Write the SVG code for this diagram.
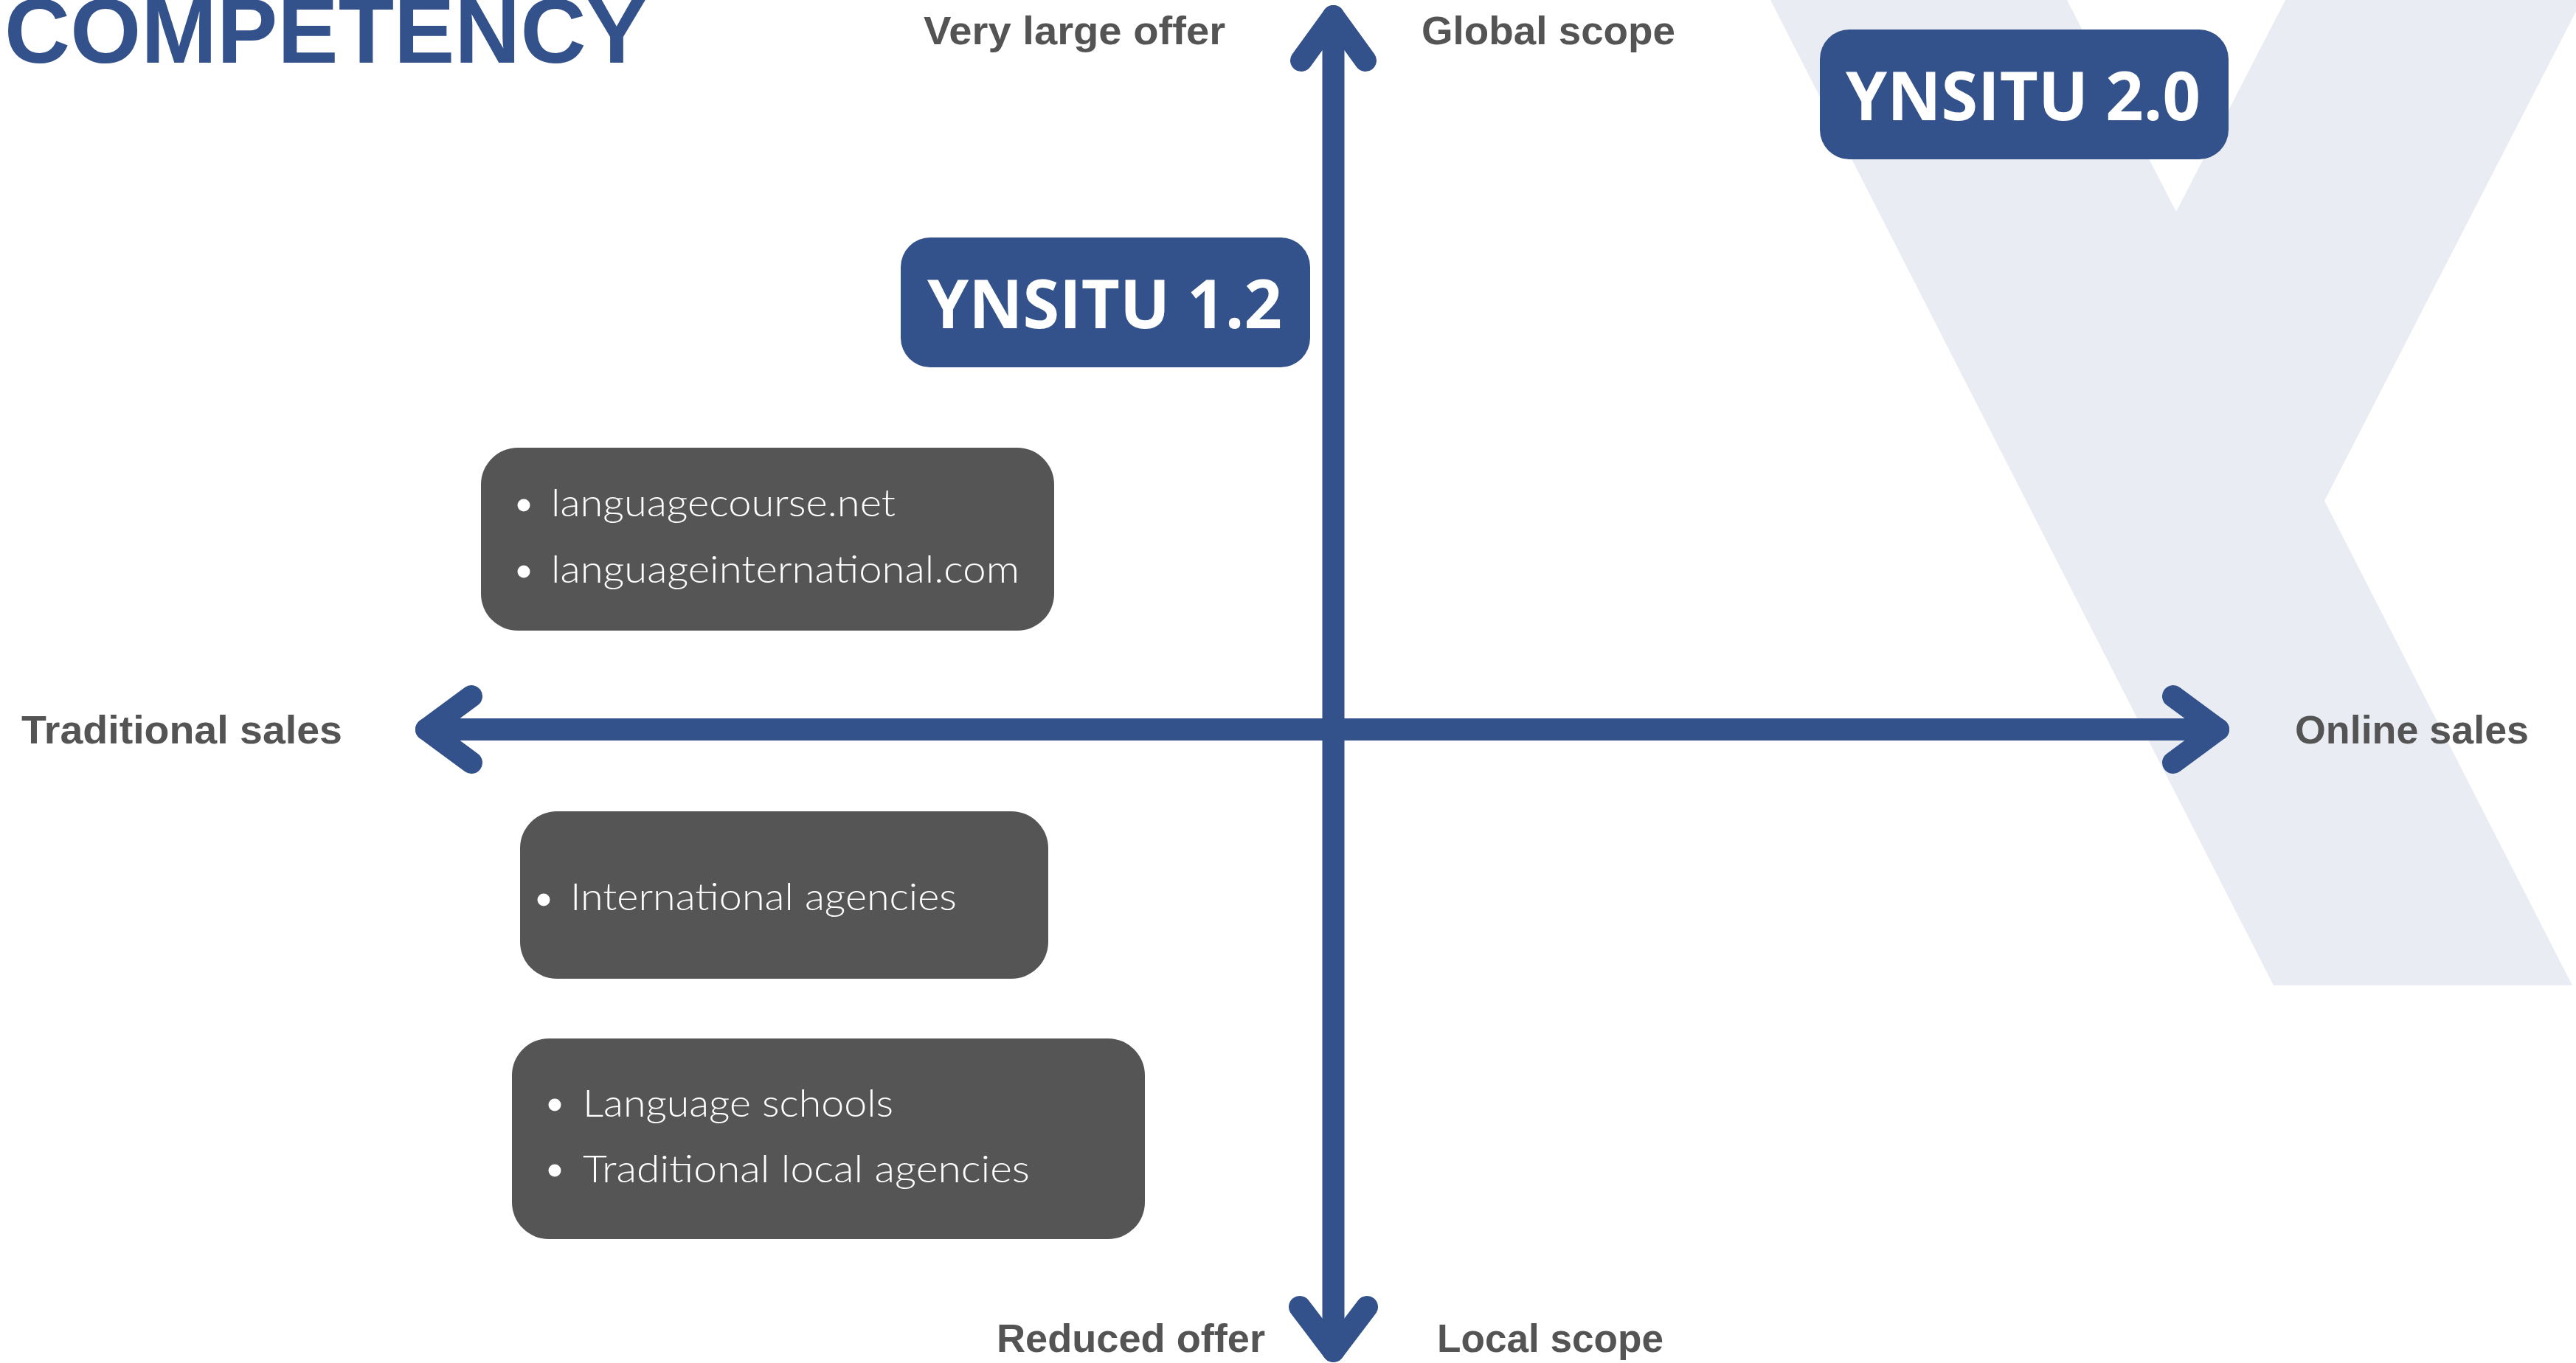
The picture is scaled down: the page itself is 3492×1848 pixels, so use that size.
<svg xmlns="http://www.w3.org/2000/svg" width="3492" height="1848" viewBox="0 0 3492 1848">
  <style>
    .axis { fill: none; stroke: #33518A; stroke-width: 30; stroke-linecap: round; stroke-linejoin: round; }
    .lbl { font-family: "Liberation Sans", Arial, sans-serif; font-weight: bold; font-size: 54px; fill: #545454; }
    .title { font-family: "Liberation Sans", Arial, sans-serif; font-weight: bold; font-size: 125px; fill: #33518A; }
    .ver-box { fill: #33518A; }
    .ver-txt { font-family: "Open Sans", "Liberation Sans", sans-serif; font-weight: bold; font-size: 91px; fill: #FFFFFF; text-anchor: middle; }
    .comp-box { fill: #555555; }
    .comp-txt { font-family: Lato, "Liberation Sans", sans-serif; font-weight: 300; font-size: 51px; fill: #FFFFFF; }
    .dot { fill: #FFFFFF; }
  </style>

  <rect width="3492" height="1848" fill="#FFFFFF"/>

  <!-- watermark letter in the background -->
  <polygon points="2400,0 2802,0 2950,287 3098,0 3500,0 3151,679 3487,1336 3082,1336" fill="#E9ECF2"/>

  <!-- heading -->
  <text class="title" x="6" y="85" textLength="871" lengthAdjust="spacingAndGlyphs">COMPETENCY</text>

  <!-- axes -->
  <g id="connectors">
    <line class="axis" x1="1807.5" y1="22" x2="1807.5" y2="1832"/>
    <polyline class="axis" points="1764,82 1807.5,22 1851,82"/>
    <polyline class="axis" points="1762,1772 1807.5,1832 1853,1772"/>
    <line class="axis" x1="578" y1="989" x2="3007" y2="989"/>
    <polyline class="axis" points="639,944 578,989 639,1034"/>
    <polyline class="axis" points="2946,944 3007,989 2946,1034"/>
  </g>

  <!-- axis end labels -->
  <g id="axis-labels">
    <text class="lbl" x="1252" y="60" textLength="409" lengthAdjust="spacingAndGlyphs">Very large offer</text>
    <text class="lbl" x="1927" y="60" textLength="344" lengthAdjust="spacingAndGlyphs">Global scope</text>
    <text class="lbl" x="1351" y="1833" textLength="364" lengthAdjust="spacingAndGlyphs">Reduced offer</text>
    <text class="lbl" x="1948" y="1833" textLength="307" lengthAdjust="spacingAndGlyphs">Local scope</text>
    <text class="lbl" x="29" y="1008" textLength="435" lengthAdjust="spacingAndGlyphs">Traditional sales</text>
    <text class="lbl" x="3111" y="1008" textLength="317" lengthAdjust="spacingAndGlyphs">Online sales</text>
  </g>

  <g id="ynsitu-2-0">
    <rect class="ver-box" x="2467" y="40" width="554" height="176" rx="40" ry="40"/>
    <text class="ver-txt" x="2742.5" y="163" textLength="481" lengthAdjust="spacingAndGlyphs">YNSITU 2.0</text>
  </g>

  <g id="ynsitu-1-2">
    <rect class="ver-box" x="1221" y="322" width="555" height="176" rx="40" ry="40"/>
    <text class="ver-txt" x="1497.5" y="445" textLength="481" lengthAdjust="spacingAndGlyphs">YNSITU 1.2</text>
  </g>

  <g id="online-platforms">
    <rect class="comp-box" x="652" y="607" width="777" height="248" rx="50" ry="50"/>
    <circle class="dot" cx="710" cy="685" r="8.5"/>
    <text class="comp-txt" x="747" y="700" textLength="467" lengthAdjust="spacingAndGlyphs">languagecourse.net</text>
    <circle class="dot" cx="710" cy="775" r="8.5"/>
    <text class="comp-txt" x="747" y="790" textLength="635" lengthAdjust="spacingAndGlyphs">languageinternational.com</text>
  </g>

  <g id="international-agencies">
    <rect class="comp-box" x="705" y="1100" width="716" height="227" rx="50" ry="50"/>
    <circle class="dot" cx="737" cy="1220" r="8.5"/>
    <text class="comp-txt" x="773" y="1234" textLength="524" lengthAdjust="spacingAndGlyphs">International agencies</text>
  </g>

  <g id="local-providers">
    <rect class="comp-box" x="694" y="1408" width="858" height="272" rx="50" ry="50"/>
    <circle class="dot" cx="752" cy="1498" r="8.5"/>
    <text class="comp-txt" x="790" y="1514" textLength="421" lengthAdjust="spacingAndGlyphs">Language schools</text>
    <circle class="dot" cx="752" cy="1587" r="8.5"/>
    <text class="comp-txt" x="790" y="1603" textLength="606" lengthAdjust="spacingAndGlyphs">Traditional local agencies</text>
  </g>
</svg>
